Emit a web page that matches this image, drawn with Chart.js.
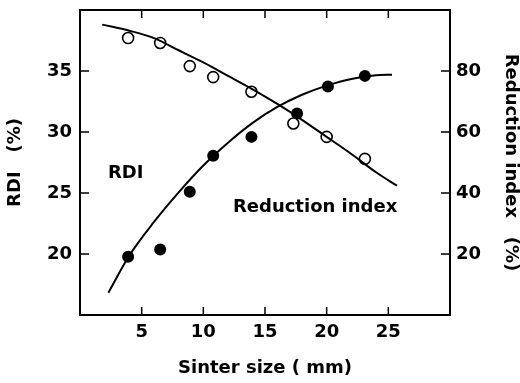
<!DOCTYPE html>
<html>
<head>
<meta charset="utf-8">
<script src="https://cdn.jsdelivr.net/npm/chart.js@4"></script>
<style>
  html, body { margin: 0; padding: 0; background: #fff; }
  canvas { display: block; }
</style>
</head>
<body>
<canvas id="sinterChart" width="520" height="383"></canvas>
<script>
// measured points (open = RDI, filled = reduction index)
const rdiSize = [3.9, 6.5, 8.9, 10.8, 13.9, 17.3, 20.0, 23.1];
const rdiValues = [37.7, 37.3, 35.4, 34.5, 33.3, 30.7, 29.6, 27.8];
const riSize = [3.9, 6.5, 8.9, 10.8, 13.9, 17.6, 20.1, 23.1];
const riValues = [19.1, 21.5, 40.4, 52.2, 58.4, 66.1, 74.9, 78.4];

// fitted curves
const rdiFitSize = [1.8, 4, 6, 8, 10, 12, 14, 16, 18, 20, 22, 24, 25.7];
const rdiFit = [38.8, 38.3, 37.7, 36.7, 35.7, 34.6, 33.5, 32.3, 31.0, 29.6, 28.2, 26.7, 25.6];
const riFitSize = [2.3, 4, 6, 8, 10, 12, 14, 16, 18, 20, 22, 24, 25.3];
const riFit = [7.3, 19.5, 30.5, 40.2, 49.0, 56.5, 63.0, 68.2, 72.2, 75.2, 77.4, 78.6, 78.8];

// tick labels
const xTicks = [5, 10, 15, 20, 25];
const rdiTicks = [20, 25, 30, 35];
const riTicks = [20, 40, 60, 80];

const toPoints = (xs, ys) => xs.map((x, i) => ({ x: x, y: ys[i] }));

const FONT = 'DejaVu Sans';
Chart.defaults.font.family = FONT;
Chart.defaults.font.weight = 'bold';
Chart.defaults.font.size = 18;
Chart.defaults.color = '#000';

// labels written inside the plot, in data units of x / left axis
const notes = [
    { text: 'RDI', x: 2.27, y: 26.6 },
    { text: 'Reduction index', x: 12.4, y: 23.8 }
];

const framePlugin = {
    id: 'frame',
    afterDraw(chart) {
        const { ctx, chartArea: a, scales } = chart;
        ctx.save();
        ctx.strokeStyle = '#000';
        ctx.lineWidth = 2;
        ctx.strokeRect(a.left, a.top, a.right - a.left, a.bottom - a.top);

        ctx.lineWidth = 1.5;
        ctx.beginPath();
        xTicks.forEach(v => {
            const px = scales.x.getPixelForValue(v);
            ctx.moveTo(px, a.bottom); ctx.lineTo(px, a.bottom - 8);
            ctx.moveTo(px, a.top); ctx.lineTo(px, a.top + 8);
        });
        rdiTicks.forEach(v => {
            const py = scales.y.getPixelForValue(v);
            ctx.moveTo(a.left, py); ctx.lineTo(a.left + 9, py);
        });
        riTicks.forEach(v => {
            const py = scales.y1.getPixelForValue(v);
            ctx.moveTo(a.right, py); ctx.lineTo(a.right - 9, py);
        });
        ctx.stroke();

        ctx.fillStyle = '#000';
        ctx.font = 'bold 18px ' + FONT;
        ctx.textAlign = 'left';
        ctx.textBaseline = 'middle';
        notes.forEach(n => {
            ctx.fillText(n.text, scales.x.getPixelForValue(n.x), scales.y.getPixelForValue(n.y));
        });
        ctx.restore();
    }
};

const onlyTicks = list => function (value) {
    return list.includes(value) ? String(value) : '';
};

// fixed box sizes so the plot frame lands where the figure has it
const fixSize = (w, h) => s => {
    if (w) s.width = w;
    if (h) s.height = h;
    s.paddingTop = 0; s.paddingBottom = 0;
    s.paddingLeft = 0; s.paddingRight = 0;
};

const noGrid = { display: false, drawTicks: false };

new Chart(document.getElementById('sinterChart').getContext('2d'), {
    type: 'scatter',
    data: {
        datasets: [
            {
                label: 'RDI fit',
                data: toPoints(rdiFitSize, rdiFit),
                yAxisID: 'y',
                showLine: true,
                cubicInterpolationMode: 'monotone',
                borderColor: '#000',
                borderWidth: 2,
                pointRadius: 0
            },
            {
                label: 'Reduction index fit',
                data: toPoints(riFitSize, riFit),
                yAxisID: 'y1',
                showLine: true,
                cubicInterpolationMode: 'monotone',
                borderColor: '#000',
                borderWidth: 2,
                pointRadius: 0
            },
            {
                label: 'RDI',
                data: toPoints(rdiSize, rdiValues),
                yAxisID: 'y',
                pointRadius: 5.5,
                pointBorderWidth: 1.6,
                pointBorderColor: '#000',
                pointBackgroundColor: '#fff'
            },
            {
                label: 'Reduction index',
                data: toPoints(riSize, riValues),
                yAxisID: 'y1',
                pointRadius: 6,
                pointBorderWidth: 0,
                pointBackgroundColor: '#000'
            }
        ]
    },
    options: {
        responsive: false,
        animation: false,
        layout: { padding: { top: 10 } },
        plugins: {
            legend: { display: false },
            tooltip: { enabled: false }
        },
        scales: {
            x: {
                type: 'linear',
                position: 'bottom',
                min: 0,
                max: 30,
                grid: noGrid,
                border: { display: false },
                ticks: { stepSize: 5, padding: 7, maxRotation: 0, callback: onlyTicks(xTicks) },
                title: { display: true, text: 'Sinter size ( mm)', font: { lineHeight: 1 }, padding: { bottom: 6 } },
                afterFit: fixSize(0, 68)
            },
            y: {
                position: 'left',
                min: 15,
                max: 40,
                grid: noGrid,
                border: { display: false },
                ticks: { stepSize: 5, padding: 8, callback: onlyTicks(rdiTicks) },
                title: { display: true, text: 'RDI   (%)', font: { lineHeight: 1 }, padding: { top: 6 } },
                afterFit: fixSize(80, 0)
            },
            y1: {
                position: 'right',
                min: 0,
                max: 100,
                grid: noGrid,
                border: { display: false },
                ticks: { stepSize: 20, padding: 6, callback: onlyTicks(riTicks) },
                title: { display: true, text: 'Reduction index   (%)', font: { lineHeight: 1 }, padding: { top: 0 } },
                afterFit: fixSize(70, 0)
            }
        }
    },
    plugins: [framePlugin]
});
</script>
</body>
</html>
